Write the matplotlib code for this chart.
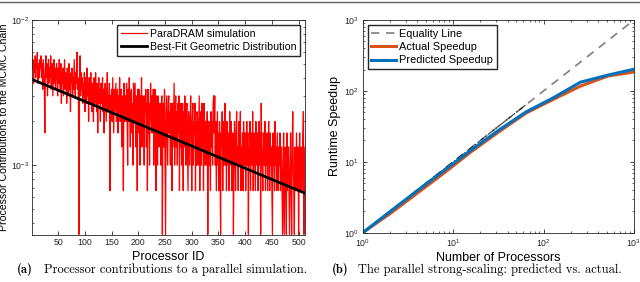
import numpy as np
import matplotlib

matplotlib.use('Agg')
import matplotlib.pyplot as plt
from matplotlib.lines import Line2D

# ---------------------------------------------------------------
# data
# ---------------------------------------------------------------
# accepted samples contributed by each processor (ID 1..512)
proc_counts = [
    20, 14, 16, 11, 15, 13, 17, 12, 16, 14, 18, 11, 15, 13, 12, 16,
    14, 17, 12, 15, 10, 16, 13, 11, 5, 14, 17, 12, 15, 9, 13, 16,
    11, 14, 12, 17, 10, 13, 15, 9, 12, 16, 11, 14, 10, 13, 15, 12,
    9, 14, 11, 16, 12, 10, 15, 8, 13, 11, 14, 9, 12, 16, 10, 13,
    11, 8, 14, 12, 9, 15, 10, 13, 7, 12, 11, 14, 9, 12, 10, 16,
    12, 9, 13, 11, 18, 10, 12, 8, 1, 11, 17, 9, 13, 10, 12, 8,
    11, 9, 13, 7, 12, 10, 8, 14, 9, 11, 6, 12, 10, 8, 13, 9,
    7, 11, 10, 6, 12, 9, 8, 13, 10, 7, 11, 5, 9, 12, 8, 10,
    6, 11, 9, 8, 12, 7, 10, 5, 9, 11, 8, 6, 10, 13, 7, 9,
    8, 11, 2, 9, 7, 10, 6, 12, 8, 5, 10, 7, 9, 11, 6, 8,
    10, 5, 9, 7, 12, 6, 8, 10, 4, 9, 7, 2, 11, 6, 8, 9,
    6, 11, 7, 3, 10, 6, 12, 8, 4, 9, 10, 5, 8, 3, 11, 6,
    8, 11, 4, 9, 6, 2, 10, 5, 10, 7, 3, 9, 6, 12, 4, 8,
    9, 6, 3, 9, 7, 10, 4, 8, 2, 10, 5, 8, 3, 7, 11, 7,
    5, 9, 5, 10, 3, 7, 10, 8, 2, 9, 6, 3, 9, 7, 4, 8,
    8, 3, 7, 9, 1, 6, 8, 4, 10, 3, 1, 7, 9, 5, 3, 8,
    9, 5, 7, 3, 8, 6, 2, 8, 4, 7, 11, 3, 6, 9, 4, 7,
    3, 8, 5, 9, 2, 7, 4, 8, 3, 6, 8, 2, 7, 4, 9, 6,
    3, 7, 8, 4, 2, 7, 6, 3, 6, 9, 5, 2, 6, 8, 3, 6,
    5, 8, 2, 6, 3, 7, 6, 3, 5, 9, 2, 6, 7, 3, 8, 4,
    5, 2, 8, 4, 3, 6, 3, 5, 7, 1, 4, 6, 3, 5, 2, 7,
    4, 6, 3, 8, 9, 5, 9, 3, 6, 2, 4, 7, 3, 5, 2, 6,
    3, 1, 5, 4, 7, 2, 6, 3, 4, 8, 3, 5, 2, 6, 4, 3,
    5, 2, 7, 4, 3, 6, 2, 4, 5, 1, 3, 6, 4, 2, 5, 7,
    3, 4, 2, 6, 5, 3, 7, 2, 4, 3, 5, 2, 6, 4, 3, 5,
    2, 4, 6, 3, 5, 1, 4, 3, 6, 2, 5, 4, 3, 7, 2, 4,
    5, 3, 2, 6, 4, 3, 5, 2, 4, 6, 3, 5, 1, 8, 4, 3,
    2, 5, 4, 3, 6, 2, 4, 3, 5, 2, 4, 6, 3, 2, 5, 3,
    4, 2, 1, 5, 3, 4, 2, 6, 3, 4, 2, 5, 3, 2, 4, 3,
    5, 2, 3, 4, 2, 1, 3, 5, 1, 2, 4, 3, 1, 5, 2, 3,
    4, 2, 1, 3, 5, 2, 1, 4, 7, 3, 2, 1, 4, 3, 2, 5,
    3, 2, 4, 1, 3, 5, 2, 3, 4, 2, 3, 5, 7, 1, 3, 4,
]
total_samples = 3000

# best-fit geometric distribution (straight on a log axis), end points
fit_ids = [1, 512]
fit_values = [3.9e-3, 6.4e-4]

# strong scaling
n_procs = [1, 2, 4, 8, 16, 32, 64, 128, 256, 512, 1000]
actual_speedup = [1, 1.85, 3.6, 7.0, 14.0, 26.5, 48.7, 76, 117, 162, 185]
predicted_speedup = [1, 1.98, 3.9, 7.6, 14.8, 28.0, 50.6, 80, 133, 167, 203]
equality_x = [1, 1000]

# ---------------------------------------------------------------
plt.rcParams['font.family'] = ['Arial', 'Liberation Sans', 'DejaVu Sans']
plt.rcParams['axes.edgecolor'] = '#262626'
plt.rcParams['xtick.color'] = '#262626'
plt.rcParams['ytick.color'] = '#262626'

fig = plt.figure(figsize=(6.4, 2.82), dpi=100)

ax1 = fig.add_axes([0.050, 0.1667, 0.4266, 0.7624])
ax2 = fig.add_axes([0.5667, 0.1748, 0.4239, 0.7540])

ids = np.arange(1, len(proc_counts) + 1)
contrib = np.array(proc_counts) / total_samples

ax1.plot(ids, contrib, color='#ff0000', lw=0.9, label='ParaDRAM simulation')
ax1.plot(fit_ids, fit_values, color='k', lw=2.0, label='Best-Fit Geometric Distribution')
ax1.set_yscale('log')
ax1.set_xlim(1, 512)
ax1.set_ylim(3.3e-4, 1e-2)
ax1.set_xticks(np.arange(50, 501, 50))
ax1.set_xlabel('Processor ID', fontsize=9, labelpad=3)
ax1.set_ylabel('Processor Contributions to the MCMC Chain', fontsize=7.6, labelpad=1)
ax1.legend(loc='upper right', fontsize=7.7, frameon=True, fancybox=False,
           edgecolor='#262626', framealpha=1, borderpad=0.35, handlelength=2.4,
           handletextpad=0.3, labelspacing=0.3, borderaxespad=0.45)

ax2.plot(equality_x, equality_x, color='#7f7f7f', lw=1.2, ls=(0, (5, 4)), label='Equality Line')
ax2.plot(n_procs[:7], n_procs[:7], color='k', lw=0.9, ls='-.', alpha=0.7)
ax2.plot(n_procs, actual_speedup, color='#D95319', lw=2.2, label='Actual Speedup')
ax2.plot(n_procs, predicted_speedup, color='#0072BD', lw=2.2, label='Predicted Speedup')
ax2.set_xscale('log')
ax2.set_yscale('log')
ax2.set_xlim(1, 1000)
ax2.set_ylim(1, 1000)
ax2.set_xlabel('Number of Processors', fontsize=9, labelpad=2)
ax2.set_ylabel('Runtime Speedup', fontsize=9, labelpad=2)
ax2.legend(loc='upper left', fontsize=7.9, frameon=True, fancybox=False,
           edgecolor='#262626', framealpha=1, borderpad=0.35, handlelength=2.2,
           handletextpad=0.3, labelspacing=0.3, borderaxespad=0.45)

for ax in (ax1, ax2):
    ax.tick_params(which='both', direction='in', top=True, right=True,
                   labelsize=6.3, pad=2)
    ax.tick_params(which='major', length=3, width=0.6)
    ax.tick_params(which='minor', length=1.6, width=0.5)
    for s in ax.spines.values():
        s.set_linewidth(0.6)
ax2.tick_params(axis='x', which='both', pad=3.5)
ax2.tick_params(axis='y', which='both', pad=3)

# captions
fig.text(0.027, 0.022, '(a)', fontsize=9, family='cmb10', ha='left', va='bottom')
fig.text(0.068, 0.022, 'Processor contributions to a parallel simulation.',
         fontsize=9, family='cmr10', ha='left', va='bottom')
fig.text(0.518, 0.022, '(b)', fontsize=9, family='cmb10', ha='left', va='bottom')
fig.text(0.560, 0.022, 'The parallel strong-scaling: predicted vs. actual.',
         fontsize=9, family='cmr10', ha='left', va='bottom')

# thin rule across the top of the page
fig.add_artist(Line2D([0, 1], [0.994, 0.994], transform=fig.transFigure,
                      color='#606060', lw=1.0))

fig.savefig('out.png', dpi=100)
